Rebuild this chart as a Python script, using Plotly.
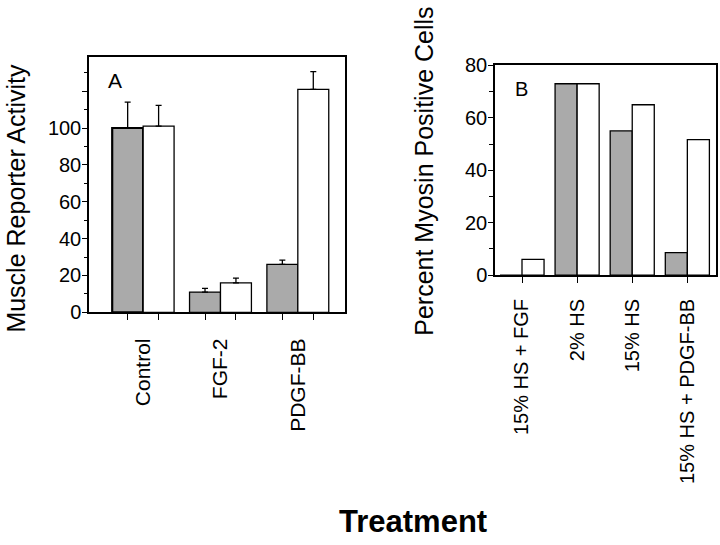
import plotly.graph_objects as go

# ---- data ----
a_categories = ["Control", "FGF-2", "PDGF-BB"]
a_gray = [100, 11, 26]
a_gray_err = [14, 2, 2.3]
a_white = [101, 16, 121]
a_white_err = [11.3, 2.6, 9.6]

b_categories = ["15% HS + FGF", "2% HS", "15% HS", "15% HS + PDGF-BB"]
b_gray = [0, 73, 55, 8.6]
b_white = [6, 73, 65, 51.7]

a_ytick_vals = [0, 20, 40, 60, 80, 100, 120]
a_ytick_text = ["0", "20", "40", "60", "80", "100", ""]
b_ytick_vals = [0, 20, 40, 60, 80]

FONT = "Liberation Sans, Arial, Helvetica, sans-serif"
GRAY = "#aaaaaa"
BARGAP = 0.2
W, H = 720, 545

def px_x(p):
    return p / W

def px_y(p):
    return 1 - p / H

a_x = list(range(len(a_categories)))
b_x = list(range(len(b_categories)))
half = (1 - BARGAP) / 4
a_bar_centers = sorted([i - half for i in a_x] + [i + half for i in a_x])

fig = go.Figure()
fig.add_trace(go.Bar(x=a_x, y=a_gray, marker=dict(color=GRAY, line=dict(color="black", width=[2.2, 1.3, 1.3])),
                     error_y=dict(type="data", array=a_gray_err, arrayminus=[0] * 3, symmetric=False,
                                  color="black", thickness=1.3, width=3),
                     xaxis="x", yaxis="y", showlegend=False))
fig.add_trace(go.Bar(x=a_x, y=a_white, marker=dict(color="white", line=dict(color="black", width=1.3)),
                     error_y=dict(type="data", array=a_white_err, arrayminus=[0] * 3, symmetric=False,
                                  color="black", thickness=1.3, width=3),
                     xaxis="x", yaxis="y", showlegend=False))
fig.add_trace(go.Bar(x=b_x, y=b_gray, marker=dict(color=GRAY, line=dict(color="black", width=1.3)),
                     xaxis="x2", yaxis="y2", showlegend=False))
fig.add_trace(go.Bar(x=b_x, y=b_white, marker=dict(color="white", line=dict(color="black", width=1.3)),
                     xaxis="x2", yaxis="y2", showlegend=False))

axis_common = dict(showline=True, linecolor="black", linewidth=1.5, mirror=True, showgrid=False,
                   zeroline=False, tickcolor="black", tickfont=dict(family=FONT, size=20, color="black"))

fig.update_layout(
    width=W, height=H,
    margin=dict(l=0, r=0, t=0, b=0),
    paper_bgcolor="white", plot_bgcolor="white",
    barmode="group", bargap=BARGAP, bargroupgap=0,
    font=dict(family=FONT, color="black"),
    xaxis=dict(axis_common, domain=[px_x(89), px_x(345)], range=[-0.70, 2.61],
               tickmode="array", tickvals=a_x, ticktext=a_categories, ticks="",
               tickangle=-90, ticklabelstandoff=16, tickfont=dict(family=FONT, size=21, color="black"),
               minor=dict(tickmode="array", tickvals=a_bar_centers, ticks="outside", ticklen=6,
                          tickwidth=1.3, tickcolor="black"),
               anchor="y"),
    yaxis=dict(axis_common, domain=[px_y(314), px_y(48)], range=[0, 138.5],
               tickmode="array", tickvals=a_ytick_vals, ticktext=a_ytick_text,
               ticks="outside", ticklen=5, tickwidth=1.3, ticklabelstandoff=-3,
               minor=dict(dtick=10, tick0=10, ticks="outside", ticklen=3, tickwidth=1.2, tickcolor="black"),
               anchor="x"),
    xaxis2=dict(axis_common, domain=[px_x(495), px_x(716)], range=[-0.49, 3.52],
                tickmode="array", tickvals=b_x, ticktext=b_categories, ticks="outside", ticklen=6,
                tickwidth=1.3, tickangle=-90, ticklabelstandoff=8,
                tickfont=dict(family=FONT, size=20, color="black"),
                anchor="y2"),
    yaxis2=dict(axis_common, domain=[px_y(275.3), px_y(56.7)], range=[0, 80],
                tickmode="array", tickvals=b_ytick_vals, ticks="outside", ticklen=5, tickwidth=1.3,
                ticklabelstandoff=-3,
                minor=dict(dtick=10, tick0=0, ticks="outside", ticklen=4, tickwidth=1.2, tickcolor="black"),
                anchor="x2"),
)

fig.add_annotation(text="Muscle Reporter Activity", x=px_x(16), y=px_y(195.5), xref="paper", yref="paper",
                   textangle=-90, showarrow=False, xanchor="center", yanchor="middle",
                   font=dict(family=FONT, size=25, color="black"))
fig.add_annotation(text="Percent Myosin Positive Cells", x=px_x(424), y=px_y(167.5), xref="paper", yref="paper",
                   textangle=-90, showarrow=False, xanchor="center", yanchor="middle",
                   font=dict(family=FONT, size=25, color="black"))
fig.add_annotation(text="A", x=px_x(115), y=px_y(72.5), xref="paper", yref="paper", showarrow=False,
                   xanchor="center", yanchor="middle", font=dict(family=FONT, size=21, color="black"))
fig.add_annotation(text="B", x=px_x(521), y=px_y(81.5), xref="paper", yref="paper", showarrow=False,
                   xanchor="center", yanchor="middle", font=dict(family=FONT, size=20, color="black"))
fig.add_annotation(text="<b>Treatment</b>", x=px_x(413), y=px_y(532), xref="paper", yref="paper",
                   showarrow=False, xanchor="center", yanchor="middle",
                   font=dict(family=FONT, size=31, color="black"))

fig.write_html("out.html", config={"displayModeBar": False},
               post_script="document.body.style.margin='0';document.body.style.overflow='hidden';")
